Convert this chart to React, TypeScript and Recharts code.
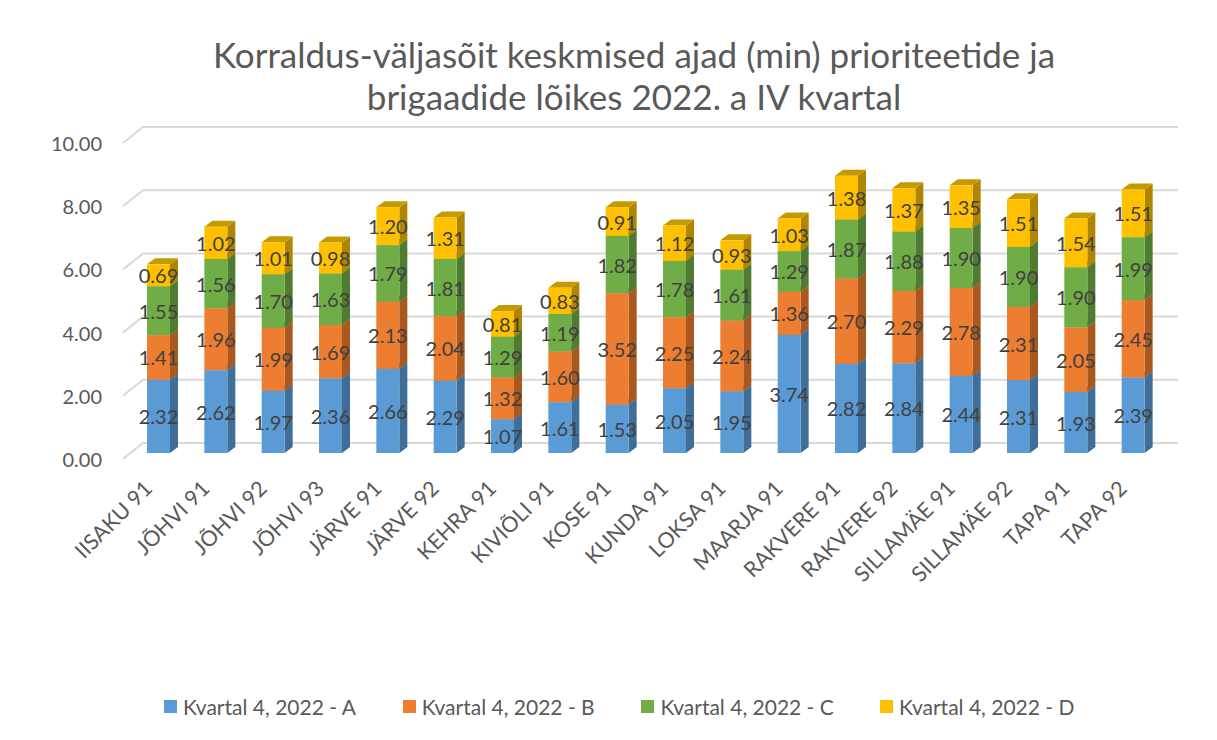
import React from "react";
import { BarChart, Bar, XAxis, YAxis, CartesianGrid, LabelList } from "recharts";

const categories = [
  "IISAKU 91", "JÕHVI 91", "JÕHVI 92", "JÕHVI 93", "JÄRVE 91", "JÄRVE 92",
  "KEHRA 91", "KIVIÕLI 91", "KOSE 91", "KUNDA 91", "LOKSA 91", "MAARJA 91",
  "RAKVERE 91", "RAKVERE 92", "SILLAMÄE 91", "SILLAMÄE 92", "TAPA 91", "TAPA 92",
];
const seriesA = [2.32, 2.62, 1.97, 2.36, 2.66, 2.29, 1.07, 1.61, 1.53, 2.05, 1.95, 3.74, 2.82, 2.84, 2.44, 2.31, 1.93, 2.39];
const seriesB = [1.41, 1.96, 1.99, 1.69, 2.13, 2.04, 1.32, 1.60, 3.52, 2.25, 2.24, 1.36, 2.70, 2.29, 2.78, 2.31, 2.05, 2.45];
const seriesC = [1.55, 1.56, 1.70, 1.63, 1.79, 1.81, 1.29, 1.19, 1.82, 1.78, 1.61, 1.29, 1.87, 1.88, 1.90, 1.90, 1.90, 1.99];
const seriesD = [0.69, 1.02, 1.01, 0.98, 1.20, 1.31, 0.81, 0.83, 0.91, 1.12, 0.93, 1.03, 1.38, 1.37, 1.35, 1.51, 1.54, 1.51];
const seriesNames = ["Kvartal 4, 2022 - A", "Kvartal 4, 2022 - B", "Kvartal 4, 2022 - C", "Kvartal 4, 2022 - D"];
const yTicks = [0, 2, 4, 6, 8, 10];
const titleLines = ["Korraldus-väljasõit keskmised ajad (min) prioriteetide ja", "brigaadide lõikes 2022. a IV kvartal"];

const data = categories.map((name, i) => ({
  name,
  a: seriesA[i],
  b: seriesB[i],
  c: seriesC[i],
  d: seriesD[i],
}));

const FONT = "Lato, 'Open Sans', sans-serif";
const keys = ["a", "b", "c", "d"];
const fronts = ["#5B9BD5", "#ED7D31", "#70AD47", "#FFC000"];
const sides = ["#3F6E98", "#A9581F", "#4F7C32", "#B08600"];
const tops = ["#4A80B2", "#C46727", "#5C913A", "#C49A00"];

const DX = 8;
const DY = 6;
const FRONT_SHIFT = -6;

const makeShape = (si: number) => (props: any) => {
  const { x, y, width, height } = props;
  if (height == null || width == null) return null;
  const y0 = y + FRONT_SHIFT;
  const w = width;
  const h = height;
  return (
    <g>
      <polygon
        points={`${x + w},${y0} ${x + w + DX},${y0 - DY} ${x + w + DX},${y0 + h - DY} ${x + w},${y0 + h}`}
        fill={sides[si]}
      />
      <polygon
        points={`${x},${y0} ${x + DX},${y0 - DY} ${x + w + DX},${y0 - DY} ${x + w},${y0}`}
        fill={tops[si]}
      />
      <rect x={x} y={y0} width={w} height={h} fill={fronts[si]} />
    </g>
  );
};

const renderLabel = (props: any) => {
  const vb = props.viewBox || {};
  const x = props.x ?? vb.x;
  const y = props.y ?? vb.y;
  const width = props.width ?? vb.width;
  const height = props.height ?? vb.height;
  const value = props.value;
  if (value == null) return null;
  return (
    <text
      x={x + width / 2}
      y={y + height / 2 + FRONT_SHIFT}
      textAnchor="middle"
      dominantBaseline="central"
      fontSize={20}
      fontFamily={FONT}
      fill="#404040"
    >
      {Number(value).toFixed(2)}
    </text>
  );
};

const XTick = (props: any) => {
  const { x, payload } = props;
  return (
    <text
      transform={`translate(${x - 5},${490}) rotate(-45)`}
      textAnchor="end"
      fontSize={21.5}
      fontFamily={FONT}
      fill="#595959"
    >
      {payload.value}
    </text>
  );
};

const YTick = (props: any) => {
  const { y, payload } = props;
  return (
    <text
      x={102}
      y={y}
      textAnchor="end"
      dominantBaseline="central"
      fontSize={20}
      fontFamily={FONT}
      fill="#595959"
    >
      {Number(payload.value).toFixed(2)}
    </text>
  );
};

const gridLine = (p: any) => {
  const { x1, y1, x2 } = p;
  return (
    <path
      key={p.key ?? `g-${y1}`}
      d={`M${x1 - 7},${y1} L${x1 + 13},${y1 - 16} L${x2 + 16},${y1 - 16}`}
      stroke="#D9D9D9"
      strokeWidth={2}
      fill="none"
    />
  );
};

export default function App() {
  return (
    <div
      style={{
        position: "relative",
        width: 1217,
        height: 740,
        margin: -8,
        overflow: "hidden",
        background: "#fff",
        fontFamily: FONT,
      }}
    >
      <div
        style={{
          position: "absolute",
          left: 6,
          top: 5,
          width: 1300,
          height: 800,
          border: "2px solid #D9D9D9",
          boxSizing: "border-box",
        }}
      />
      <div
        style={{
          position: "absolute",
          left: 0,
          top: 33,
          width: 1268,
          textAlign: "center",
          fontSize: 35,
          lineHeight: "42px",
          color: "#595959",
        }}
      >
        {titleLines.map((t) => (
          <div key={t}>{t}</div>
        ))}
      </div>
      <div style={{ position: "absolute", left: 0, top: 0 }}>
        <BarChart
          width={1217}
          height={740}
          data={data}
          margin={{ top: 143, right: 55, bottom: 251, left: 70 }}
          barSize={23}
        >
          <CartesianGrid vertical={false} horizontal={gridLine} />
          <XAxis
            dataKey="name"
            height={30}
            axisLine={false}
            tickLine={false}
            interval={0}
            tick={<XTick />}
          />
          <YAxis
            width={60}
            domain={[0, 10]}
            ticks={yTicks}
            axisLine={false}
            tickLine={false}
            tick={<YTick />}
          />
          {keys.map((k, si) => (
            <Bar
              key={k}
              dataKey={k}
              stackId="s"
              name={seriesNames[si]}
              fill={fronts[si]}
              isAnimationActive={false}
              shape={makeShape(si)}
            >
              <LabelList dataKey={k} content={renderLabel} />
            </Bar>
          ))}
        </BarChart>
      </div>
      {seriesNames.map((n, i) => (
        <div
          key={n}
          style={{
            position: "absolute",
            left: 164 + i * 238.7,
            top: 693,
            height: 26,
            display: "flex",
            alignItems: "center",
            whiteSpace: "nowrap",
            fontSize: 21,
            color: "#595959",
          }}
        >
          <span
            style={{
              display: "inline-block",
              width: 13,
              height: 13,
              background: fronts[i],
              marginRight: 6,
            }}
          />
          {n}
        </div>
      ))}
    </div>
  );
}
